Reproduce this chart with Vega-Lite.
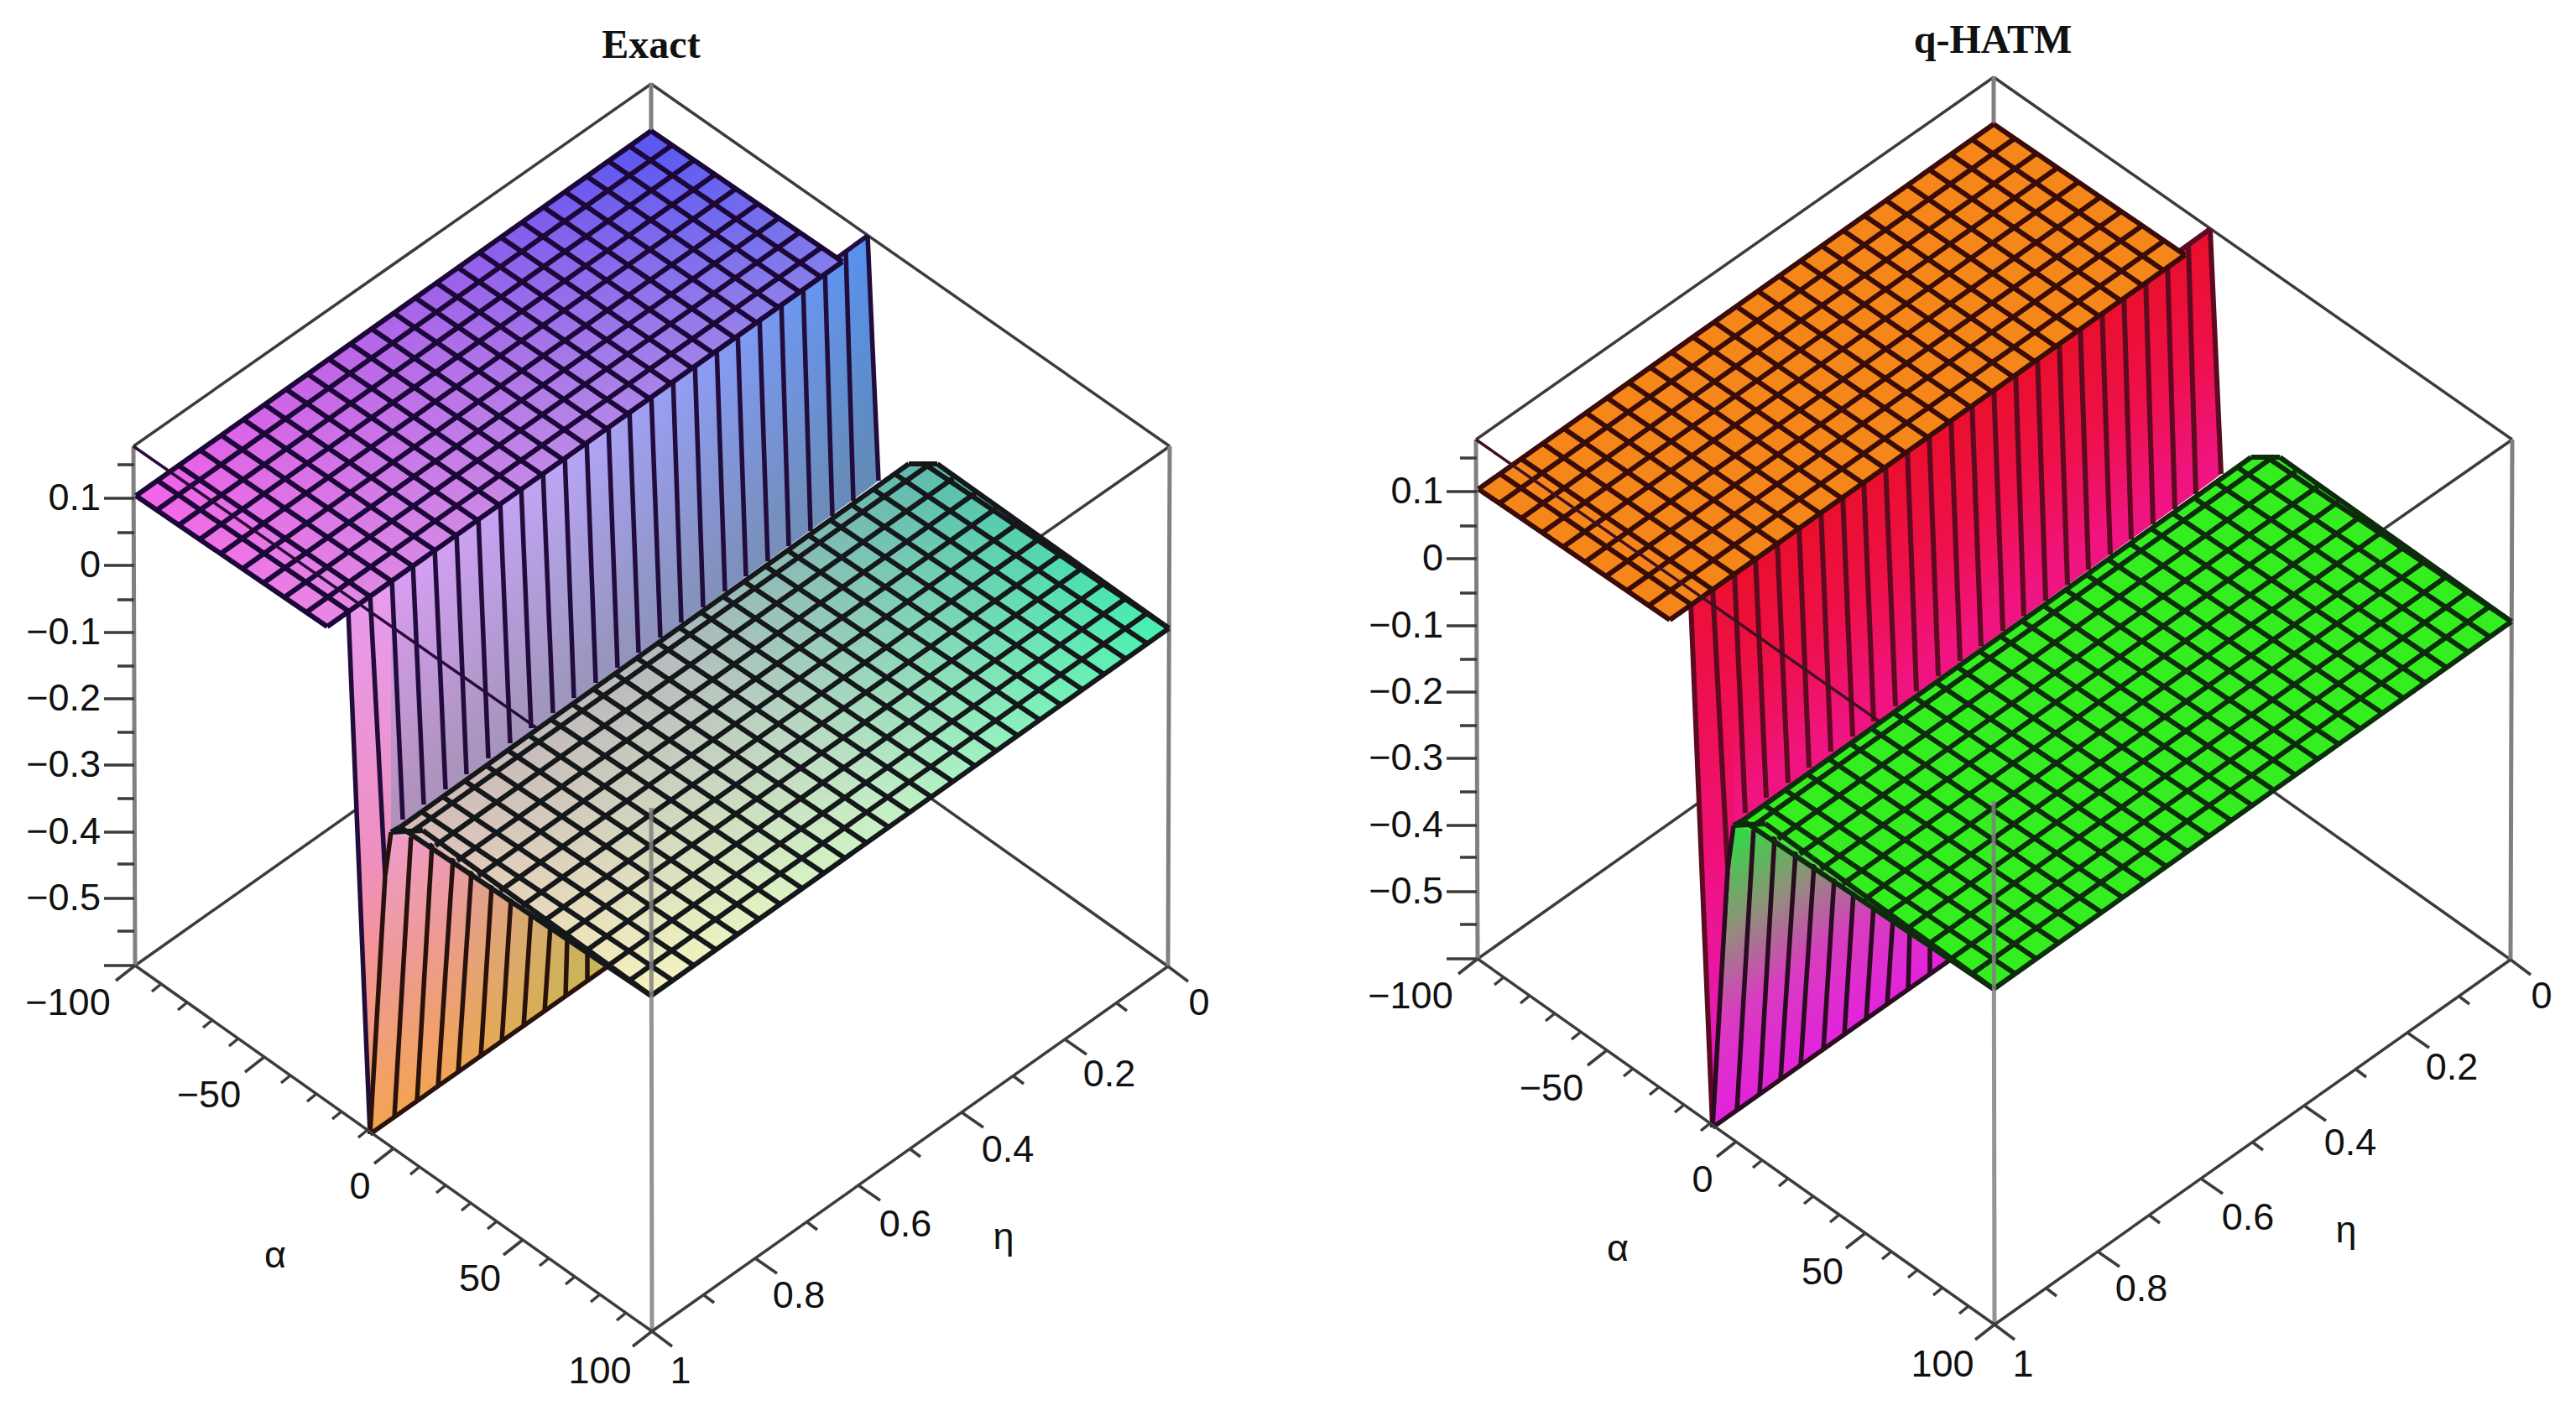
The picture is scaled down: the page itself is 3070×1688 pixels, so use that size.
{
"$schema":"https://vega.github.io/schema/vega-lite/v6.json",
"description":"Two 3D surface plots, Exact and q-HATM, drawn in the plane of the picture.",
"padding":0,"spacing":0,"background":"white",
"config":{"view":{"stroke":null}},
"datasets":{
"faces":[
{"face":"wall","x":415,"y":727,"y2":727},{"face":"wall","x":441,"y":708,"y2":1352},{"face":"wall","x":466,"y":690,"y2":992},{"face":"wall","x":1034,"y":281,"y2":583},{"face":"wall","x":1047,"y":573,"y2":573},
{"face":"strip","x":415,"y":727,"y2":727},{"face":"strip","x":441,"y":708,"y2":1352},{"face":"strip","x":466,"y":690,"y2":992},
{"face":"lower","x":441,"y":1352,"y2":1352},{"face":"lower","x":466,"y":992,"y2":1334},{"face":"lower","x":513,"y":1004,"y2":1301},{"face":"lower","x":723,"y":1150,"y2":1153},
{"face":"top","x":162,"y":591,"y2":591},{"face":"top","x":390,"y":429,"y2":747},{"face":"top","x":776,"y":156,"y2":473},{"face":"top","x":1004,"y":312,"y2":312},
{"face":"bottom","x":466,"y":992,"y2":992},{"face":"bottom","x":513,"y":959,"y2":1004},{"face":"bottom","x":776,"y":771,"y2":1187},{"face":"bottom","x":1083,"y":553,"y2":969},{"face":"bottom","x":1117,"y":553,"y2":945},{"face":"bottom","x":1393,"y":749,"y2":749}
],
"lines":[
{"kind":"back","x":159,"y":532,"x2":776,"y2":100},{"kind":"back","x":776,"y":100,"x2":1394,"y2":532},{"kind":"back","x":161,"y":1151,"x2":777,"y2":716},{"kind":"back","x":1392,"y":1152,"x2":777,"y2":716},{"kind":"back","x":1394,"y":532,"x2":776,"y2":963},
{"kind":"grayback","x":776,"y":100,"x2":776,"y2":716},{"kind":"grayback","x":159,"y":532,"x2":161,"y2":1151},{"kind":"grayback","x":1394,"y":532,"x2":1392,"y2":1152},
{"kind":"wall","x":415,"y":727,"x2":1034,"y2":281},
{"kind":"wall","x":415,"y":727,"x2":441,"y2":1352},{"kind":"wall","x":441,"y":708,"x2":459,"y2":1044},{"kind":"wall","x":467,"y":690,"x2":480,"y2":977},{"kind":"wall","x":492,"y":671,"x2":505,"y2":959},{"kind":"wall","x":518,"y":653,"x2":531,"y2":941},{"kind":"wall","x":544,"y":634,"x2":556,"y2":923},{"kind":"wall","x":570,"y":615,"x2":582,"y2":904},{"kind":"wall","x":596,"y":597,"x2":608,"y2":886},{"kind":"wall","x":621,"y":578,"x2":633,"y2":868},{"kind":"wall","x":647,"y":560,"x2":659,"y2":850},{"kind":"wall","x":673,"y":541,"x2":684,"y2":832},{"kind":"wall","x":699,"y":522,"x2":710,"y2":814},{"kind":"wall","x":725,"y":504,"x2":736,"y2":796},{"kind":"wall","x":750,"y":485,"x2":761,"y2":778},{"kind":"wall","x":776,"y":467,"x2":787,"y2":760},{"kind":"wall","x":802,"y":448,"x2":812,"y2":742},{"kind":"wall","x":828,"y":429,"x2":838,"y2":724},{"kind":"wall","x":854,"y":411,"x2":864,"y2":705},{"kind":"wall","x":879,"y":392,"x2":889,"y2":687},{"kind":"wall","x":905,"y":374,"x2":915,"y2":669},{"kind":"wall","x":931,"y":355,"x2":940,"y2":651},{"kind":"wall","x":957,"y":336,"x2":966,"y2":633},{"kind":"wall","x":983,"y":318,"x2":992,"y2":615},{"kind":"wall","x":1008,"y":299,"x2":1017,"y2":597},{"kind":"wall","x":1034,"y":281,"x2":1047,"y2":573},
{"kind":"fan","x":459,"y":1044,"x2":441,"y2":1352},{"kind":"fan","x":466,"y":992,"x2":459,"y2":1044},{"kind":"fan","x":490,"y":995,"x2":470,"y2":1332},{"kind":"fan","x":515,"y":1005,"x2":497,"y2":1313},{"kind":"fan","x":540,"y":1023,"x2":522,"y2":1295},{"kind":"fan","x":562,"y":1038,"x2":546,"y2":1278},{"kind":"fan","x":586,"y":1055,"x2":573,"y2":1260},{"kind":"fan","x":609,"y":1071,"x2":598,"y2":1242},{"kind":"fan","x":633,"y":1087,"x2":624,"y2":1224},{"kind":"fan","x":656,"y":1103,"x2":649,"y2":1206},{"kind":"fan","x":676,"y":1117,"x2":674,"y2":1189},{"kind":"fan","x":700,"y":1134,"x2":700,"y2":1170},{"kind":"fan","x":441,"y":1352,"x2":723,"y2":1153},
{"kind":"topgrid","x":162,"y":591,"x2":390,"y2":747},{"kind":"topgrid","x":188,"y":573,"x2":416,"y2":729},{"kind":"topgrid","x":213,"y":555,"x2":441,"y2":711},{"kind":"topgrid","x":239,"y":537,"x2":467,"y2":693},{"kind":"topgrid","x":264,"y":519,"x2":492,"y2":675},{"kind":"topgrid","x":290,"y":500,"x2":518,"y2":656},{"kind":"topgrid","x":315,"y":482,"x2":543,"y2":638},{"kind":"topgrid","x":341,"y":464,"x2":569,"y2":620},{"kind":"topgrid","x":367,"y":446,"x2":595,"y2":602},{"kind":"topgrid","x":392,"y":428,"x2":620,"y2":584},{"kind":"topgrid","x":418,"y":410,"x2":646,"y2":566},{"kind":"topgrid","x":443,"y":392,"x2":671,"y2":548},{"kind":"topgrid","x":469,"y":373,"x2":697,"y2":529},{"kind":"topgrid","x":495,"y":355,"x2":723,"y2":511},{"kind":"topgrid","x":520,"y":337,"x2":748,"y2":493},{"kind":"topgrid","x":546,"y":319,"x2":774,"y2":475},{"kind":"topgrid","x":571,"y":301,"x2":799,"y2":457},{"kind":"topgrid","x":597,"y":283,"x2":825,"y2":439},{"kind":"topgrid","x":622,"y":265,"x2":850,"y2":421},{"kind":"topgrid","x":648,"y":247,"x2":876,"y2":403},{"kind":"topgrid","x":674,"y":229,"x2":902,"y2":385},{"kind":"topgrid","x":699,"y":210,"x2":927,"y2":366},{"kind":"topgrid","x":725,"y":192,"x2":953,"y2":348},{"kind":"topgrid","x":750,"y":174,"x2":978,"y2":330},{"kind":"topgrid","x":776,"y":156,"x2":1004,"y2":312},
{"kind":"topgrid","x":162,"y":591,"x2":776,"y2":156},{"kind":"topgrid","x":187,"y":608,"x2":801,"y2":173},{"kind":"topgrid","x":213,"y":626,"x2":827,"y2":191},{"kind":"topgrid","x":238,"y":643,"x2":852,"y2":208},{"kind":"topgrid","x":263,"y":660,"x2":877,"y2":225},{"kind":"topgrid","x":289,"y":678,"x2":903,"y2":243},{"kind":"topgrid","x":314,"y":695,"x2":928,"y2":260},{"kind":"topgrid","x":339,"y":712,"x2":953,"y2":277},{"kind":"topgrid","x":365,"y":730,"x2":979,"y2":295},{"kind":"topgrid","x":390,"y":747,"x2":1004,"y2":312},
{"kind":"through","x":159,"y":532,"x2":776,"y2":963},
{"kind":"bottomgrid","x":776,"y":1187,"x2":477,"y2":986},{"kind":"bottomgrid","x":802,"y":1169,"x2":503,"y2":968},{"kind":"bottomgrid","x":827,"y":1151,"x2":528,"y2":950},{"kind":"bottomgrid","x":853,"y":1132,"x2":554,"y2":931},{"kind":"bottomgrid","x":879,"y":1114,"x2":580,"y2":913},{"kind":"bottomgrid","x":905,"y":1096,"x2":606,"y2":895},{"kind":"bottomgrid","x":930,"y":1078,"x2":631,"y2":877},{"kind":"bottomgrid","x":956,"y":1059,"x2":657,"y2":858},{"kind":"bottomgrid","x":982,"y":1041,"x2":683,"y2":840},{"kind":"bottomgrid","x":1007,"y":1023,"x2":708,"y2":822},{"kind":"bottomgrid","x":1033,"y":1005,"x2":734,"y2":804},{"kind":"bottomgrid","x":1059,"y":986,"x2":760,"y2":785},{"kind":"bottomgrid","x":1084,"y":968,"x2":785,"y2":767},{"kind":"bottomgrid","x":1110,"y":950,"x2":811,"y2":749},{"kind":"bottomgrid","x":1136,"y":932,"x2":837,"y2":731},{"kind":"bottomgrid","x":1162,"y":913,"x2":863,"y2":712},{"kind":"bottomgrid","x":1187,"y":895,"x2":888,"y2":694},{"kind":"bottomgrid","x":1213,"y":877,"x2":914,"y2":676},{"kind":"bottomgrid","x":1239,"y":858,"x2":940,"y2":657},{"kind":"bottomgrid","x":1264,"y":840,"x2":965,"y2":639},{"kind":"bottomgrid","x":1290,"y":822,"x2":991,"y2":621},{"kind":"bottomgrid","x":1316,"y":804,"x2":1017,"y2":603},{"kind":"bottomgrid","x":1341,"y":785,"x2":1042,"y2":584},{"kind":"bottomgrid","x":1367,"y":767,"x2":1068,"y2":566},{"kind":"bottomgrid","x":1393,"y":749,"x2":1100,"y2":552},
{"kind":"bottomgrid","x":776,"y":1187,"x2":1393,"y2":749},{"kind":"bottomgrid","x":750,"y":1169,"x2":1367,"y2":731},{"kind":"bottomgrid","x":725,"y":1151,"x2":1342,"y2":713},{"kind":"bottomgrid","x":699,"y":1133,"x2":1316,"y2":695},{"kind":"bottomgrid","x":673,"y":1115,"x2":1290,"y2":677},{"kind":"bottomgrid","x":648,"y":1098,"x2":1265,"y2":660},{"kind":"bottomgrid","x":622,"y":1080,"x2":1239,"y2":642},{"kind":"bottomgrid","x":596,"y":1062,"x2":1213,"y2":624},{"kind":"bottomgrid","x":570,"y":1044,"x2":1187,"y2":606},{"kind":"bottomgrid","x":545,"y":1026,"x2":1162,"y2":588},{"kind":"bottomgrid","x":519,"y":1008,"x2":1136,"y2":570},{"kind":"bottomgrid","x":493,"y":990,"x2":1110,"y2":552},{"kind":"bottomgrid","x":477,"y":986,"x2":1083,"y2":553},{"kind":"bottomgrid","x":466,"y":992,"x2":477,"y2":986},{"kind":"bottomgrid","x":466,"y":992,"x2":504,"y2":990},{"kind":"bottomgrid","x":504,"y":990,"x2":776,"y2":1187},{"kind":"bottomgrid","x":1083,"y":553,"x2":1117,"y2":553},{"kind":"bottomgrid","x":1117,"y":553,"x2":1393,"y2":749},
{"kind":"frontgray","x":776,"y":963,"x2":777,"y2":1587},
{"kind":"axis","x":161,"y":1151,"x2":777,"y2":1587},{"kind":"axis","x":1392,"y":1152,"x2":777,"y2":1587},
{"kind":"axis","x":161,"y":1151,"x2":138,"y2":1169},{"kind":"axis","x":192,"y":1173,"x2":181,"y2":1182},{"kind":"axis","x":223,"y":1195,"x2":212,"y2":1204},{"kind":"axis","x":253,"y":1216,"x2":242,"y2":1225},{"kind":"axis","x":284,"y":1238,"x2":273,"y2":1247},{"kind":"axis","x":315,"y":1260,"x2":292,"y2":1278},{"kind":"axis","x":346,"y":1282,"x2":335,"y2":1291},{"kind":"axis","x":377,"y":1304,"x2":366,"y2":1313},{"kind":"axis","x":407,"y":1325,"x2":396,"y2":1334},{"kind":"axis","x":438,"y":1347,"x2":427,"y2":1356},{"kind":"axis","x":469,"y":1369,"x2":446,"y2":1387},{"kind":"axis","x":500,"y":1391,"x2":489,"y2":1400},{"kind":"axis","x":531,"y":1413,"x2":520,"y2":1422},{"kind":"axis","x":561,"y":1434,"x2":550,"y2":1443},{"kind":"axis","x":592,"y":1456,"x2":581,"y2":1465},{"kind":"axis","x":623,"y":1478,"x2":600,"y2":1496},{"kind":"axis","x":654,"y":1500,"x2":643,"y2":1509},{"kind":"axis","x":685,"y":1522,"x2":674,"y2":1531},{"kind":"axis","x":715,"y":1543,"x2":704,"y2":1552},{"kind":"axis","x":746,"y":1565,"x2":735,"y2":1574},{"kind":"axis","x":777,"y":1587,"x2":754,"y2":1605},
{"kind":"axis","x":1392,"y":1152,"x2":1416,"y2":1170},{"kind":"axis","x":1331,"y":1196,"x2":1343,"y2":1205},{"kind":"axis","x":1269,"y":1239,"x2":1295,"y2":1257},{"kind":"axis","x":1208,"y":1283,"x2":1220,"y2":1292},{"kind":"axis","x":1146,"y":1326,"x2":1172,"y2":1344},{"kind":"axis","x":1085,"y":1370,"x2":1097,"y2":1379},{"kind":"axis","x":1023,"y":1413,"x2":1049,"y2":1431},{"kind":"axis","x":962,"y":1457,"x2":974,"y2":1466},{"kind":"axis","x":900,"y":1500,"x2":926,"y2":1518},{"kind":"axis","x":839,"y":1544,"x2":851,"y2":1553},{"kind":"axis","x":777,"y":1587,"x2":801,"y2":1605},
{"kind":"axis","x":124,"y":594,"x2":160,"y2":594},{"kind":"axis","x":124,"y":674,"x2":160,"y2":674},{"kind":"axis","x":124,"y":754,"x2":160,"y2":754},{"kind":"axis","x":124,"y":833,"x2":160,"y2":833},{"kind":"axis","x":124,"y":912,"x2":160,"y2":912},{"kind":"axis","x":124,"y":992,"x2":160,"y2":992},{"kind":"axis","x":124,"y":1071,"x2":160,"y2":1071},{"kind":"axis","x":124,"y":1151,"x2":160,"y2":1151},
{"kind":"axis","x":140,"y":554,"x2":160,"y2":554},{"kind":"axis","x":140,"y":635,"x2":160,"y2":635},{"kind":"axis","x":140,"y":715,"x2":160,"y2":715},{"kind":"axis","x":140,"y":794,"x2":160,"y2":794},{"kind":"axis","x":140,"y":873,"x2":160,"y2":873},{"kind":"axis","x":140,"y":952,"x2":160,"y2":952},{"kind":"axis","x":140,"y":1030,"x2":160,"y2":1030},{"kind":"axis","x":140,"y":1110,"x2":160,"y2":1110}
],
"labels":[
{"label":"−100","x":81,"y":1196},{"label":"−50","x":249,"y":1306},{"label":"0","x":429,"y":1415},{"label":"50","x":572,"y":1525},{"label":"100","x":715,"y":1635},{"label":"α","x":328,"y":1497},{"label":"η","x":1196,"y":1475},{"label":"1","x":811,"y":1635},{"label":"0.8","x":952,"y":1545},{"label":"0.6","x":1079,"y":1460},{"label":"0.4","x":1201,"y":1371},{"label":"0.2","x":1322,"y":1281},{"label":"0","x":1429,"y":1196}
],
"zlabels":[
{"label":"0.1","x":120,"y":594},{"label":"0","x":120,"y":674},{"label":"−0.1","x":120,"y":754},{"label":"−0.2","x":120,"y":833},{"label":"−0.3","x":120,"y":912},{"label":"−0.4","x":120,"y":992},{"label":"−0.5","x":120,"y":1071}
],
"titles":[{"panel":"left","label":"Exact","x":776,"y":55},{"panel":"right","label":"q-HATM","x":775,"y":57}]
},
"hconcat":[
{"width":1535,"height":1688,
"encoding":{"x":{"field":"x","type":"quantitative","axis":null,"scale":{"domain":[0,1535],"nice":false,"zero":false}},"y":{"field":"y","type":"quantitative","axis":null,"scale":{"domain":[1688,0],"nice":false,"zero":false}}},
"layer":[
{"data":{"name":"lines"},"transform":[{"filter":{"field":"kind","equal":"back"}}],"mark":{"type":"rule","stroke":"#3c3c3c","strokeWidth":3.5},"encoding":{"x2":{"field":"x2"},"y2":{"field":"y2"}}},
{"data":{"name":"lines"},"transform":[{"filter":{"field":"kind","equal":"grayback"}}],"mark":{"type":"rule","stroke":"#808080","strokeWidth":5},"encoding":{"x2":{"field":"x2"},"y2":{"field":"y2"}}},
{"data":{"name":"faces"},"transform":[{"filter":{"field":"face","equal":"wall"}}],"mark":{"type":"area","opacity":1,"fill":{"gradient":"linear","x1":0,"y1":0,"x2":1,"y2":0,"stops":[{"offset":0,"color":"#e49bf2"},{"offset":0.4,"color":"#bba6f6"},{"offset":0.75,"color":"#7f9af5"},{"offset":1,"color":"#4f90ee"}]}},"encoding":{"y2":{"field":"y2"}}},
{"data":{"name":"faces"},"transform":[{"filter":{"field":"face","equal":"wall"}}],"mark":{"type":"area","opacity":1,"fill":{"gradient":"linear","x1":0,"y1":0.416,"x2":0.094,"y2":0.637,"stops":[{"offset":0,"color":"rgba(120,130,110,0)"},{"offset":1,"color":"rgba(120,130,110,0.42)"}]}},"encoding":{"y2":{"field":"y2"}}},
{"data":{"name":"faces"},"transform":[{"filter":{"field":"face","equal":"strip"}}],"mark":{"type":"area","opacity":1,"fill":{"gradient":"linear","x1":0,"y1":0,"x2":0,"y2":1,"stops":[{"offset":0,"color":"#e79cf0"},{"offset":0.5,"color":"#ef8fc0"},{"offset":0.7,"color":"#f59590"},{"offset":1,"color":"#f0a060"}]}},"encoding":{"y2":{"field":"y2"}}},
{"data":{"name":"lines"},"transform":[{"filter":{"field":"kind","equal":"wall"}}],"mark":{"type":"rule","stroke":"#220c3c","strokeWidth":5.5},"encoding":{"x2":{"field":"x2"},"y2":{"field":"y2"}}},
{"data":{"name":"faces"},"transform":[{"filter":{"field":"face","equal":"lower"}}],"mark":{"type":"area","opacity":1,"fill":{"gradient":"linear","x1":0,"y1":1,"x2":-0.4,"y2":0.27,"stops":[{"offset":0,"color":"#f2a452"},{"offset":0.5,"color":"#ee9a90"},{"offset":1,"color":"#ee9ccc"}]}},"encoding":{"y2":{"field":"y2"}}},
{"data":{"name":"faces"},"transform":[{"filter":{"field":"face","equal":"lower"}}],"mark":{"type":"area","opacity":1,"fill":{"gradient":"linear","x1":0.3,"y1":0,"x2":1,"y2":0,"stops":[{"offset":0,"color":"rgba(180,190,90,0)"},{"offset":1,"color":"rgba(180,190,90,0.75)"}]}},"encoding":{"y2":{"field":"y2"}}},
{"data":{"name":"lines"},"transform":[{"filter":{"field":"kind","equal":"fan"}}],"mark":{"type":"rule","stroke":"#2a120c","strokeWidth":5.5},"encoding":{"x2":{"field":"x2"},"y2":{"field":"y2"}}},
{"data":{"name":"faces"},"transform":[{"filter":{"field":"face","equal":"top"}}],"mark":{"type":"area","opacity":1,"fill":{"gradient":"linear","x1":0,"y1":0.73,"x2":0.72,"y2":0.04,"stops":[{"offset":0,"color":"#f463e6"},{"offset":0.5,"color":"#ae66e8"},{"offset":1,"color":"#5c58f0"}]}},"encoding":{"y2":{"field":"y2"}}},
{"data":{"name":"faces"},"transform":[{"filter":{"field":"face","equal":"top"}}],"mark":{"type":"area","opacity":1,"fill":{"gradient":"linear","x1":0,"y1":0.73,"x2":0.26,"y2":1,"stops":[{"offset":0,"color":"rgba(215,200,225,0)"},{"offset":1,"color":"rgba(215,200,225,0.35)"}]}},"encoding":{"y2":{"field":"y2"}}},
{"data":{"name":"lines"},"transform":[{"filter":{"field":"kind","equal":"topgrid"}}],"mark":{"type":"rule","stroke":"#1c0838","strokeWidth":6},"encoding":{"x2":{"field":"x2"},"y2":{"field":"y2"}}},
{"data":{"name":"lines"},"transform":[{"filter":{"field":"kind","equal":"through"}}],"mark":{"type":"rule","stroke":"#2a0a3a","strokeWidth":3.5},"encoding":{"x2":{"field":"x2"},"y2":{"field":"y2"}}},
{"data":{"name":"faces"},"transform":[{"filter":{"field":"face","equal":"bottom"}}],"mark":{"type":"area","opacity":1,"fill":{"gradient":"linear","x1":0,"y1":0.69,"x2":0.66,"y2":0,"stops":[{"offset":0,"color":"#f8f2be"},{"offset":0.5,"color":"#c4f0c6"},{"offset":1,"color":"#48f0b0"}]}},"encoding":{"y2":{"field":"y2"}}},
{"data":{"name":"faces"},"transform":[{"filter":{"field":"face","equal":"bottom"}}],"mark":{"type":"area","opacity":1,"fill":{"gradient":"linear","x1":0,"y1":0.69,"x2":0.32,"y2":1,"stops":[{"offset":0,"color":"rgba(150,70,170,0.32)"},{"offset":1,"color":"rgba(150,70,170,0)"}]}},"encoding":{"y2":{"field":"y2"}}},
{"data":{"name":"lines"},"transform":[{"filter":{"field":"kind","equal":"bottomgrid"}}],"mark":{"type":"rule","stroke":"#15181a","strokeWidth":6},"encoding":{"x2":{"field":"x2"},"y2":{"field":"y2"}}},
{"data":{"name":"lines"},"transform":[{"filter":{"field":"kind","equal":"frontgray"}}],"mark":{"type":"rule","stroke":"#808080","strokeWidth":5,"opacity":0.85},"encoding":{"x2":{"field":"x2"},"y2":{"field":"y2"}}},
{"data":{"name":"lines"},"transform":[{"filter":{"field":"kind","equal":"axis"}}],"mark":{"type":"rule","stroke":"#3c3c3c","strokeWidth":3.5},"encoding":{"x2":{"field":"x2"},"y2":{"field":"y2"}}},
{"data":{"name":"labels"},"mark":{"type":"text","font":"Liberation Sans","fontSize":45,"fill":"#111111","align":"center","baseline":"middle"},"encoding":{"text":{"field":"label"}}},
{"data":{"name":"zlabels"},"mark":{"type":"text","font":"Liberation Sans","fontSize":45,"fill":"#111111","align":"right","baseline":"middle"},"encoding":{"text":{"field":"label"}}},
{"data":{"name":"titles"},"transform":[{"filter":{"field":"panel","equal":"left"}}],"mark":{"type":"text","font":"Liberation Serif","fontWeight":"bold","fontSize":48,"fill":"#111111","align":"center","baseline":"middle"},"encoding":{"text":{"field":"label"}}}
]},
{"width":1535,"height":1688,
"encoding":{"x":{"field":"x","type":"quantitative","axis":null,"scale":{"domain":[-65,1470],"nice":false,"zero":false}},"y":{"field":"y","type":"quantitative","axis":null,"scale":{"domain":[1696,8],"nice":false,"zero":false}}},
"layer":[
{"data":{"name":"lines"},"transform":[{"filter":{"field":"kind","equal":"back"}}],"mark":{"type":"rule","stroke":"#3c3c3c","strokeWidth":3.5},"encoding":{"x2":{"field":"x2"},"y2":{"field":"y2"}}},
{"data":{"name":"lines"},"transform":[{"filter":{"field":"kind","equal":"grayback"}}],"mark":{"type":"rule","stroke":"#808080","strokeWidth":5},"encoding":{"x2":{"field":"x2"},"y2":{"field":"y2"}}},
{"data":{"name":"faces"},"transform":[{"filter":{"field":"face","equal":"wall"}}],"mark":{"type":"area","opacity":1,"fill":{"gradient":"linear","x1":0,"y1":0.416,"x2":0.094,"y2":0.637,"stops":[{"offset":0,"color":"#ea0f2b"},{"offset":0.5,"color":"#ee1048"},{"offset":1,"color":"#f01482"}]}},"encoding":{"y2":{"field":"y2"}}},
{"data":{"name":"faces"},"transform":[{"filter":{"field":"face","equal":"strip"}}],"mark":{"type":"area","opacity":1,"fill":{"gradient":"linear","x1":0,"y1":0,"x2":0,"y2":1,"stops":[{"offset":0,"color":"#ec1030"},{"offset":0.5,"color":"#f01078"},{"offset":1,"color":"#e020d8"}]}},"encoding":{"y2":{"field":"y2"}}},
{"data":{"name":"lines"},"transform":[{"filter":{"field":"kind","equal":"wall"}}],"mark":{"type":"rule","stroke":"#5c0a20","strokeWidth":6},"encoding":{"x2":{"field":"x2"},"y2":{"field":"y2"}}},
{"data":{"name":"faces"},"transform":[{"filter":{"field":"face","equal":"lower"}}],"mark":{"type":"area","opacity":1,"fill":{"gradient":"linear","x1":0,"y1":1,"x2":-0.4,"y2":0.27,"stops":[{"offset":0,"color":"#e322dc"},{"offset":0.35,"color":"#d83cc0"},{"offset":0.65,"color":"#90907a"},{"offset":1,"color":"#28e040"}]}},"encoding":{"y2":{"field":"y2"}}},
{"data":{"name":"lines"},"transform":[{"filter":{"field":"kind","equal":"fan"}}],"mark":{"type":"rule","stroke":"#2a0c20","strokeWidth":5.5},"encoding":{"x2":{"field":"x2"},"y2":{"field":"y2"}}},
{"data":{"name":"faces"},"transform":[{"filter":{"field":"face","equal":"top"}}],"mark":{"type":"area","opacity":1,"fill":"#f5861a"},"encoding":{"y2":{"field":"y2"}}},
{"data":{"name":"lines"},"transform":[{"filter":{"field":"kind","equal":"topgrid"}}],"mark":{"type":"rule","stroke":"#3a0c08","strokeWidth":6},"encoding":{"x2":{"field":"x2"},"y2":{"field":"y2"}}},
{"data":{"name":"lines"},"transform":[{"filter":{"field":"kind","equal":"through"}}],"mark":{"type":"rule","stroke":"#401020","strokeWidth":3.5},"encoding":{"x2":{"field":"x2"},"y2":{"field":"y2"}}},
{"data":{"name":"faces"},"transform":[{"filter":{"field":"face","equal":"bottom"}}],"mark":{"type":"area","opacity":1,"fill":"#35ee20"},"encoding":{"y2":{"field":"y2"}}},
{"data":{"name":"lines"},"transform":[{"filter":{"field":"kind","equal":"bottomgrid"}}],"mark":{"type":"rule","stroke":"#0c2c0c","strokeWidth":6},"encoding":{"x2":{"field":"x2"},"y2":{"field":"y2"}}},
{"data":{"name":"lines"},"transform":[{"filter":{"field":"kind","equal":"frontgray"}}],"mark":{"type":"rule","stroke":"#808080","strokeWidth":5,"opacity":0.85},"encoding":{"x2":{"field":"x2"},"y2":{"field":"y2"}}},
{"data":{"name":"lines"},"transform":[{"filter":{"field":"kind","equal":"axis"}}],"mark":{"type":"rule","stroke":"#3c3c3c","strokeWidth":3.5},"encoding":{"x2":{"field":"x2"},"y2":{"field":"y2"}}},
{"data":{"name":"labels"},"mark":{"type":"text","font":"Liberation Sans","fontSize":45,"fill":"#111111","align":"center","baseline":"middle"},"encoding":{"text":{"field":"label"}}},
{"data":{"name":"zlabels"},"mark":{"type":"text","font":"Liberation Sans","fontSize":45,"fill":"#111111","align":"right","baseline":"middle"},"encoding":{"text":{"field":"label"}}},
{"data":{"name":"titles"},"transform":[{"filter":{"field":"panel","equal":"right"}}],"mark":{"type":"text","font":"Liberation Serif","fontWeight":"bold","fontSize":48,"fill":"#111111","align":"center","baseline":"middle"},"encoding":{"text":{"field":"label"}}}
]}
]
}
